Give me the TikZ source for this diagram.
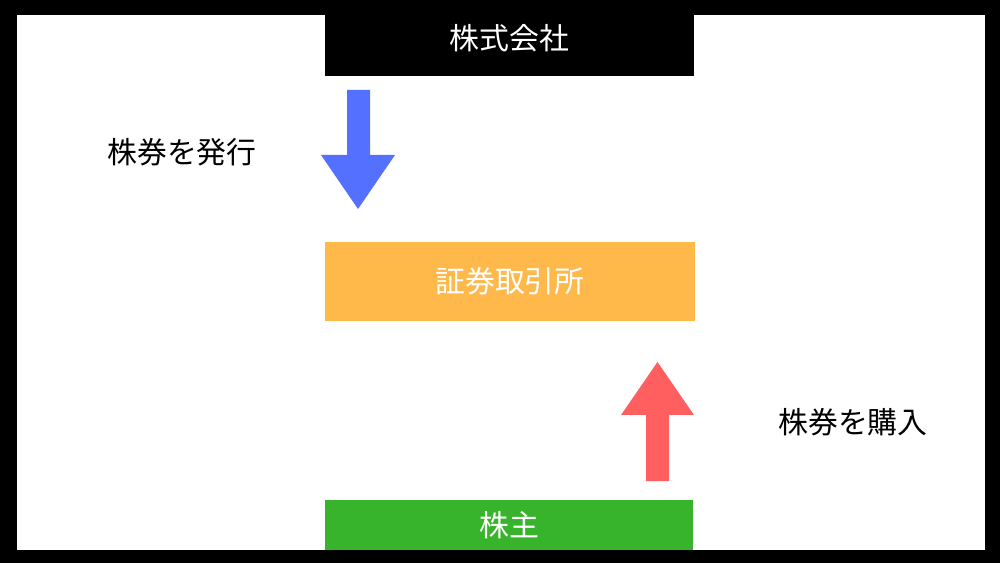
\documentclass[tikz,border=0pt]{standalone}
\usepackage{fontspec}
\newfontfamily\jpfont{Noto Sans CJK JP}
\usetikzlibrary{positioning}
\definecolor{arrowblue}{RGB}{84,112,255}
\definecolor{arrowred}{RGB}{255,95,95}
\definecolor{boxorange}{RGB}{255,185,75}
\definecolor{boxgreen}{RGB}{56,180,44}
\tikzset{
  box/.style={minimum width=7.4cm, inner sep=0pt, font=\jpfont\fontsize{17}{20}\selectfont},
  lbl/.style={font=\jpfont\fontsize{17}{20}\selectfont}
}
\begin{document}
\begin{tikzpicture}[x=0.02cm,y=-0.02cm]
  \useasboundingbox (0,0) rectangle (1000,563);
  \fill[black] (0,0) rectangle (1000,563);
  \fill[white] (17,15) rectangle (985,550);
  % boxes
  \node[box, fill=black, text=white, minimum height=1.52cm] (kaisha) at (509.5,38) {株式会社};
  \node[box, fill=boxorange, text=white, minimum height=1.58cm] (torihikijo) at (510,281.5) {証券取引所};
  \node[box, fill=boxgreen, text=white, minimum height=1.0cm, minimum width=7.36cm] (kabunushi) at (509,525) {株主};
  % arrows
  \fill[arrowblue] (347,90) -- (370,90) -- (370,155) -- (395,155) -- (358,209) -- (321,155) -- (347,155) -- cycle;
  \fill[arrowred] (646,481) -- (669,481) -- (669,415) -- (694,415) -- (657.5,362) -- (621,415) -- (646,415) -- cycle;
  % labels
  \node[lbl] (hakko) at (182,152) {株券を発行};
  \node[lbl] (konyu) at (853,422) {株券を購入};
\end{tikzpicture}
\end{document}
